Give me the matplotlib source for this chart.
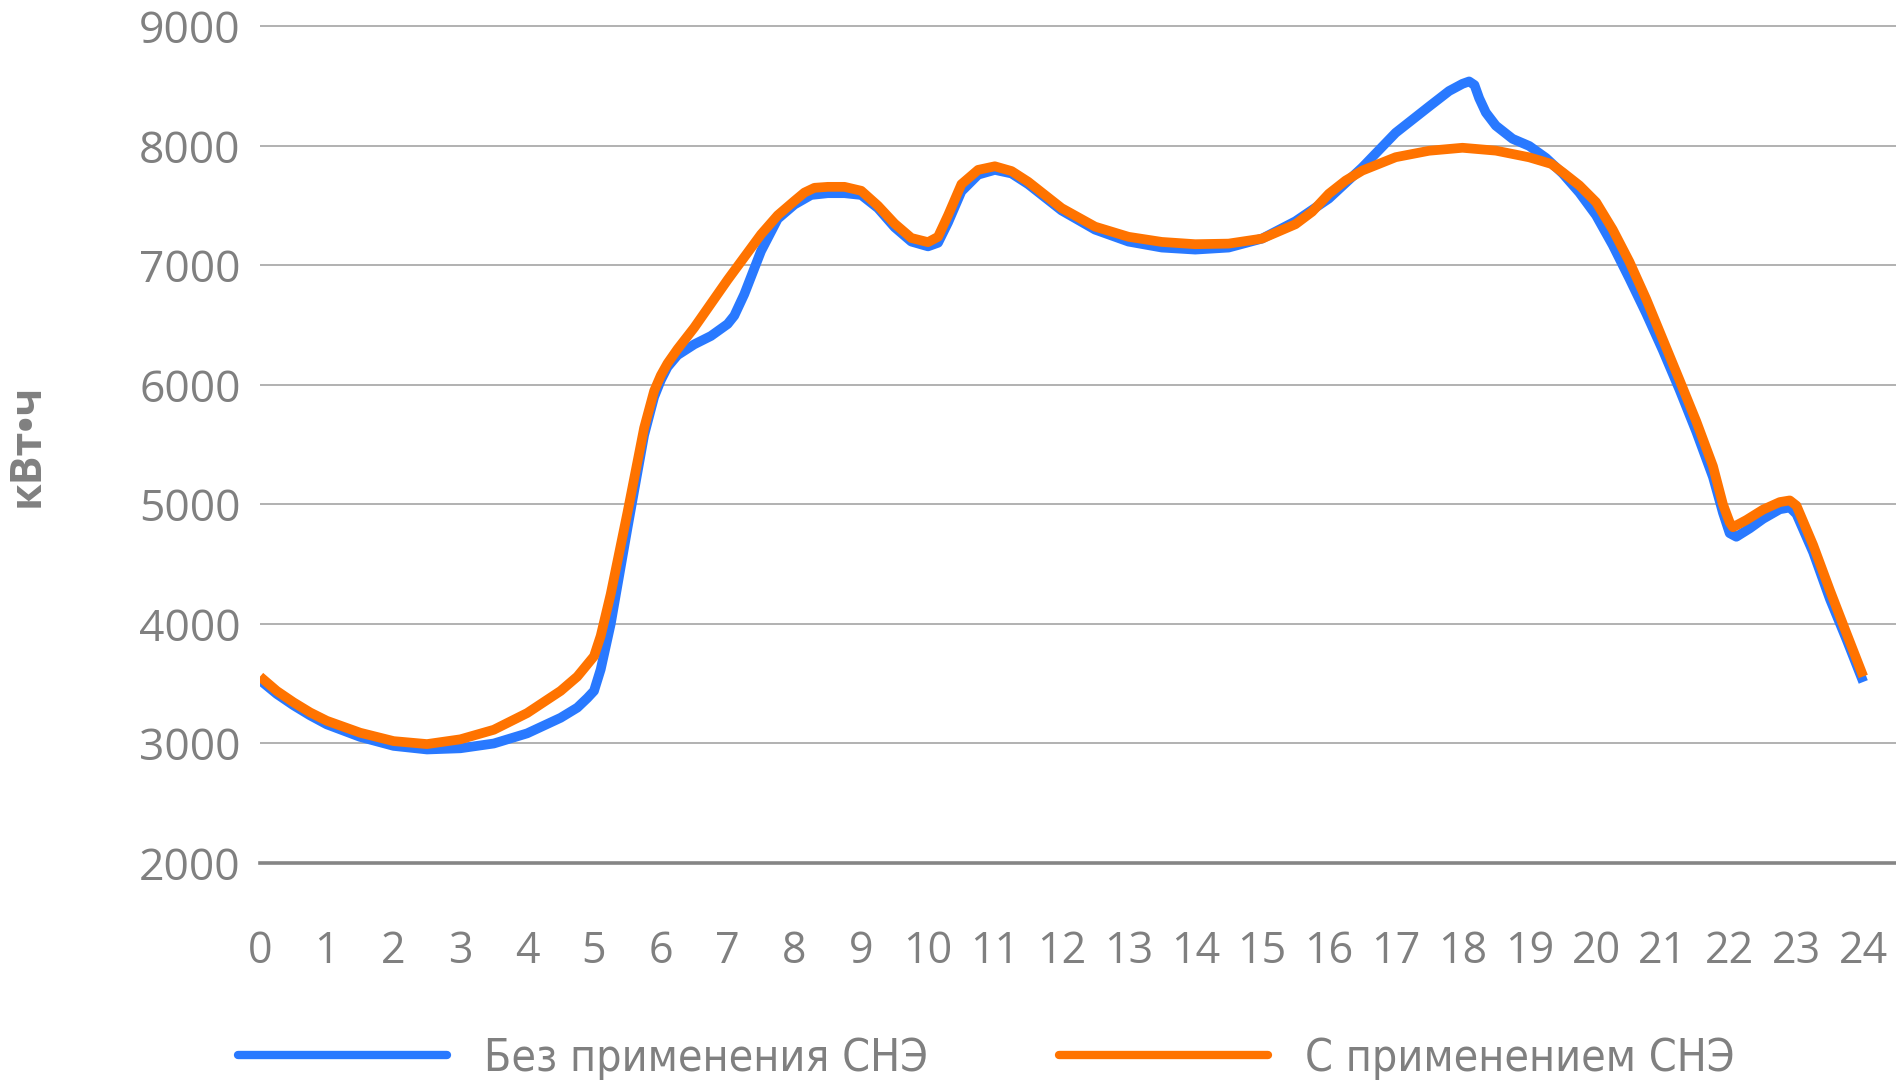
import matplotlib
matplotlib.use("Agg")
import matplotlib.pyplot as plt
from matplotlib import font_manager as fm
from matplotlib.lines import Line2D

# ---------------- data ----------------
hours_blue = [0, 0.25, 0.5, 0.75, 1, 1.5, 2, 2.5, 3, 3.5, 4, 4.5, 4.75, 4.9, 5, 5.1, 5.25,
              5.5, 5.75, 5.9, 6, 6.1, 6.25, 6.5, 6.75, 7, 7.1, 7.25, 7.5, 7.75, 8, 8.25,
              8.5, 8.75, 9, 9.25, 9.5, 9.75, 10, 10.15, 10.3, 10.5, 10.75, 11, 11.25,
              11.5, 11.75, 12, 12.5, 13, 13.5, 14, 14.5, 15, 15.5, 16, 16.5, 17, 17.5,
              17.8, 18, 18.1, 18.18, 18.25, 18.35, 18.5, 18.75, 19, 19.25, 19.5, 19.75,
              20, 20.25, 20.5, 20.75, 21, 21.25, 21.5, 21.75, 21.9, 22, 22.1, 22.3, 22.5,
              22.75, 22.9, 23, 23.25, 23.5, 23.75, 24]
load_blue = [3530, 3415, 3320, 3235, 3160, 3055, 2980, 2950, 2960, 3000, 3085, 3215, 3300,
             3380, 3440, 3620, 4000, 4800, 5580, 5900, 6040, 6150, 6250, 6340, 6410, 6510,
             6580, 6760, 7120, 7390, 7510, 7590, 7605, 7605, 7590, 7480, 7320, 7200, 7160,
             7190, 7360, 7620, 7760, 7800, 7770, 7680, 7570, 7460, 7300, 7200, 7150, 7133,
             7150, 7225, 7370, 7560, 7820, 8110, 8330, 8460, 8520, 8540, 8510, 8400, 8280,
             8170, 8060, 8000, 7900, 7770, 7610, 7420, 7170, 6890, 6600, 6290, 5960, 5610,
             5230, 4930, 4760, 4730, 4800, 4880, 4960, 4975, 4920, 4600, 4210, 3870, 3515]

hours_orange = [0, 0.25, 0.5, 0.75, 1, 1.5, 2, 2.5, 3, 3.5, 4, 4.5, 4.75, 5, 5.1, 5.25,
                5.5, 5.75, 5.9, 6, 6.1, 6.25, 6.5, 6.75, 7, 7.25, 7.5, 7.75, 8, 8.15, 8.3,
                8.5, 8.75, 9, 9.25, 9.5, 9.75, 10, 10.15, 10.3, 10.5, 10.75, 11, 11.25,
                11.5, 11.75, 12, 12.5, 13, 13.5, 14, 14.5, 15, 15.5, 15.75, 16, 16.25,
                16.5, 17, 17.5, 18, 18.5, 19, 19.33, 19.5, 19.75, 20, 20.25, 20.5, 20.75,
                21, 21.25, 21.5, 21.75, 21.9, 22, 22.05, 22.25, 22.5, 22.75, 22.9, 23,
                23.25, 23.5, 23.75, 24]
load_orange = [3560, 3440, 3345, 3260, 3190, 3090, 3020, 2995, 3035, 3115, 3255, 3440,
               3560, 3730, 3900, 4250, 4930, 5640, 5950, 6080, 6180, 6300, 6480, 6680,
               6880, 7070, 7260, 7420, 7540, 7610, 7650, 7658, 7658, 7625, 7500, 7350,
               7230, 7195, 7240, 7420, 7680, 7800, 7830, 7790, 7700, 7590, 7480, 7325,
               7240, 7197, 7178, 7183, 7225, 7345, 7450, 7600, 7710, 7794, 7906, 7960,
               7985, 7961, 7905, 7850, 7780, 7670, 7530, 7300, 7030, 6720, 6380, 6040,
               5696, 5320, 5000, 4850, 4810, 4870, 4957, 5020, 5034, 4990, 4660, 4282,
               3920, 3561]

x_ticks = list(range(0, 25))
y_ticks = [2000, 3000, 4000, 5000, 6000, 7000, 8000, 9000]
series_labels = ["Без применения СНЭ", "С применением СНЭ"]
y_label = "кВт•ч"

BLUE = "#2979FF"
ORANGE = "#FF7300"
GREY = "#808080"


# ---------------- fonts ----------------
def pick_narrow():
    pref = ["Liberation Sans Narrow", "Open Sans", "Noto Sans", "Roboto", "Lato",
            "Inter", "DejaVu Sans", "Liberation Sans"]
    best = None
    for f in fm.fontManager.ttflist:
        st = str(f.stretch)
        nm = f.name
        if f.style != "normal":
            continue
        w = f.weight
        if isinstance(w, str):
            w = 400 if w in ("normal", "regular", "book") else 700 if w == "bold" else 500
        if w != 400:
            continue
        narrow = st in ("condensed", "semi-condensed", "extra-condensed") or \
            "Narrow" in nm or "Condensed" in nm
        if not narrow:
            continue
        rank = pref.index(nm) if nm in pref else len(pref)
        if best is None or rank < best[0]:
            best = (rank, f.fname)
    if best is None:
        return fm.FontProperties(family="Open Sans", size=32)
    return fm.FontProperties(fname=best[1], size=32)


narrow_fp = pick_narrow()

W, H = 1896, 1086
fig = plt.figure(figsize=(W / 100, H / 100), dpi=100)
fig.patch.set_facecolor("white")

ax_left = 260 / W
ax_bottom = (H - 863) / H
ax_top_px = 19.3
ax = fig.add_axes([ax_left, ax_bottom, 1 - ax_left, (863 - ax_top_px) / H])

ax.plot(hours_blue, load_blue, color=BLUE, lw=7, solid_capstyle="butt",
        solid_joinstyle="round", zorder=3)
ax.plot(hours_orange, load_orange, color=ORANGE, lw=7, solid_capstyle="butt",
        solid_joinstyle="round", zorder=4)

ax.set_xlim(0, 24.49)
ax.set_ylim(2000, 9060)
ax.set_xticks(x_ticks)
ax.set_yticks(y_ticks)
ax.set_xticklabels([str(t) for t in x_ticks])
ax.set_yticklabels([str(t) for t in y_ticks])

ax.yaxis.grid(True, color="#9c9c9c", lw=1.1)
ax.xaxis.grid(False)
ax.set_axisbelow(True)
for s in ("left", "right", "top"):
    ax.spines[s].set_visible(False)
ax.spines["bottom"].set_color("#858585")
ax.spines["bottom"].set_linewidth(2.6)
ax.spines["bottom"].set_zorder(2)

ax.tick_params(axis="both", length=0)
ax.tick_params(axis="y", pad=14, labelcolor=GREY)
ax.tick_params(axis="x", pad=72, labelcolor=GREY)
for lab in ax.get_yticklabels():
    lab.set_fontfamily("Open Sans")
    lab.set_fontsize(32)
for lab in ax.get_xticklabels():
    lab.set_fontfamily("Open Sans")
    lab.set_fontsize(31)
    lab.set_verticalalignment("baseline")

fig.text(27 / W, 1 - 445 / H, y_label, rotation=90, ha="center", va="center",
         fontsize=31, fontweight="bold", color=GREY, family="Open Sans")

# legend: two entries placed separately
h_blue = Line2D([], [], color=BLUE, lw=6, solid_capstyle="round")
h_orange = Line2D([], [], color=ORANGE, lw=6, solid_capstyle="round")
leg_kw = dict(loc="center left", bbox_transform=fig.transFigure, frameon=False,
              handlelength=4.7, handletextpad=0.83, borderpad=0, borderaxespad=0,
              prop=narrow_fp, labelcolor=GREY)
leg1 = ax.legend([h_blue], [series_labels[0]], bbox_to_anchor=(238 / W, 1 - 1058 / H), **leg_kw)
ax.add_artist(leg1)
leg2 = ax.legend([h_orange], [series_labels[1]], bbox_to_anchor=(1059 / W, 1 - 1058 / H), **leg_kw)

fig.savefig("out.png", dpi=100, facecolor="white")
